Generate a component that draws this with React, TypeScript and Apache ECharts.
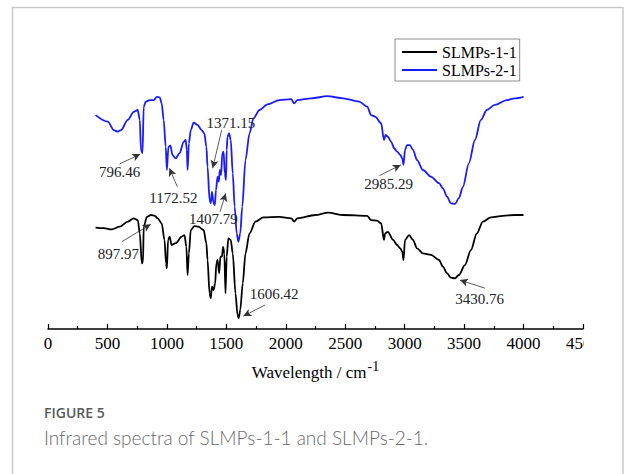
import React, { useEffect, useRef } from "react";
import * as echarts from "echarts";

// ---- Data (wavenumber in cm-1, transmittance in arbitrary units) ----
const series1Name = "SLMPs-1-1";
const series2Name = "SLMPs-2-1";

const wn1 = [400, 470, 537, 604, 671, 721, 755, 772, 789, 799, 805, 832, 866, 899, 923, 956, 980, 993, 1000, 1010, 1023, 1040, 1074, 1124, 1148, 1164, 1174, 1185, 1201, 1232, 1265, 1309, 1332, 1342, 1359, 1369, 1379, 1393, 1406, 1416, 1426, 1440, 1450, 1463, 1473, 1483, 1493, 1503, 1517, 1537, 1554, 1577, 1594, 1604, 1617, 1638, 1661, 1695, 1745, 1812, 1946, 2047, 2070, 2097, 2248, 2356, 2483, 2685, 2718, 2768, 2802, 2826, 2836, 2859, 2903, 2936, 2963, 2980, 2990, 3003, 3037, 3070, 3104, 3154, 3221, 3289, 3322, 3356, 3389, 3423, 3456, 3507, 3557, 3607, 3658, 3725, 3826, 3926, 4000];
const t1 = [33.8, 33.6, 33.2, 34.1, 35.8, 36.9, 36.3, 31.9, 21.9, 22.4, 34.1, 37.4, 38.0, 37.7, 36.9, 35.2, 29.7, 21.9, 20.2, 29.7, 30.8, 28.0, 28.6, 30.8, 31.3, 27.4, 18.0, 25.2, 33.0, 34.3, 34.1, 33.0, 28.6, 23.0, 11.9, 10.2, 14.1, 13.0, 15.2, 21.9, 23.0, 18.6, 24.1, 24.1, 27.4, 25.2, 11.9, 24.1, 30.2, 29.7, 25.2, 11.9, 4.7, 3.6, 6.3, 15.2, 25.2, 31.9, 35.8, 37.2, 37.4, 36.9, 35.8, 36.9, 38.0, 38.8, 38.0, 37.7, 36.3, 36.1, 35.2, 29.7, 31.9, 32.4, 29.7, 28.0, 26.9, 25.8, 23.0, 29.7, 31.3, 29.7, 26.9, 25.2, 24.7, 23.0, 20.8, 18.6, 17.1, 16.9, 18.0, 21.3, 26.3, 31.9, 35.8, 37.2, 37.7, 38.0, 38.0];

const wn2 = [400, 503, 554, 587, 614, 671, 721, 755, 772, 782, 795, 805, 822, 856, 889, 916, 940, 956, 973, 990, 1000, 1013, 1030, 1047, 1074, 1107, 1141, 1158, 1168, 1174, 1185, 1201, 1225, 1258, 1292, 1315, 1332, 1342, 1359, 1369, 1379, 1393, 1403, 1413, 1426, 1436, 1446, 1456, 1466, 1477, 1487, 1497, 1503, 1510, 1523, 1537, 1554, 1570, 1587, 1601, 1617, 1634, 1661, 1695, 1728, 1779, 1846, 1946, 2047, 2070, 2097, 2215, 2349, 2483, 2617, 2685, 2718, 2752, 2802, 2826, 2839, 2859, 2886, 2913, 2936, 2963, 2980, 2990, 3003, 3020, 3044, 3070, 3104, 3154, 3221, 3289, 3322, 3356, 3389, 3423, 3456, 3490, 3540, 3591, 3641, 3691, 3758, 3859, 3926, 4000];
const t2 = [71.3, 69.1, 66.3, 65.8, 66.3, 69.7, 72.4, 73.0, 69.7, 59.7, 58.6, 74.1, 75.8, 76.3, 76.3, 77.4, 77.2, 75.2, 69.7, 60.8, 53.0, 60.8, 61.1, 58.0, 56.9, 58.6, 62.4, 63.0, 59.7, 53.0, 61.9, 66.3, 68.8, 68.0, 66.3, 65.2, 60.8, 54.1, 43.0, 41.9, 45.8, 41.9, 41.3, 46.3, 50.8, 49.1, 53.0, 51.3, 58.6, 59.1, 51.9, 49.7, 59.7, 64.1, 65.2, 63.0, 51.9, 40.8, 31.9, 29.1, 31.9, 40.8, 56.3, 65.2, 70.2, 73.0, 74.9, 76.3, 76.6, 75.2, 76.3, 76.9, 77.6, 76.9, 75.8, 74.1, 71.3, 70.8, 68.6, 63.0, 64.7, 64.1, 62.4, 60.2, 59.1, 58.0, 56.9, 54.7, 59.7, 61.3, 61.3, 59.7, 56.3, 53.0, 50.8, 48.6, 46.9, 44.1, 41.9, 41.7, 43.6, 47.4, 55.2, 63.0, 69.7, 73.0, 74.7, 76.3, 76.9, 77.4];

const xTicks = [0, 500, 1000, 1500, 2000, 2500, 3000, 3500, 4000, 4500];

const peakLabels = ["796.46", "1172.52", "1371.15", "1407.79", "897.97", "1606.42", "2985.29", "3430.76"];
const peakLabelPos = [[602, 52.4], [1055, 43.6], [1539, 68.8], [1390, 36.7], [592, 25.0], [1903, 11.7], [2865, 48.3], [3630, 10.0]];
const arrowFrom = [[602, 55.0], [1088, 47.4], [1461, 66.3], [1447, 39.1], [620, 29.1], [1825, 8.0], [2787, 51.1], [3675, 13.6]];
const arrowTo = [[776, 58.3], [1021, 53.6], [1385, 53.6], [1495, 45.2], [864, 34.9], [1643, 4.3], [2967, 54.7], [3465, 16.3]];

const figureLabel = "FIGURE 5";
const caption = "Infrared spectra of SLMPs-1-1 and SLMPs-2-1.";

const SERIF = "'Liberation Serif', 'Times New Roman', serif";

export default function App() {
  const ref = useRef<HTMLDivElement>(null);

  useEffect(() => {
    document.body.style.margin = "0";
    if (!ref.current) return;
    const chart = echarts.init(ref.current, null, { renderer: "svg" });

    const zip = (a: number[], b: number[]) => a.map((x, i) => [x, b[i]]);

    const option: any = {
      animation: false,
      backgroundColor: "#fff",
      grid: { left: 48, right: 42, top: 29, bottom: 145, containLabel: false },
      xAxis: {
        type: "value",
        min: xTicks[0],
        max: xTicks[xTicks.length - 1],
        interval: xTicks[1] - xTicks[0],
        axisLine: { show: true, lineStyle: { color: "#000", width: 1.5 } },
        axisTick: { show: true, inside: true, length: 5, lineStyle: { color: "#000", width: 1.2 } },
        minorTick: { show: true, splitNumber: 2, length: 3, lineStyle: { color: "#000", width: 1.2 } },
        splitLine: { show: false },
        axisLabel: {
          fontSize: 17,
          fontFamily: SERIF,
          color: "#000",
          margin: 6,
          formatter: (v: number) => String(v),
        },
        name: "{a|Wavelength / cm}{b|-1}",
        nameLocation: "middle",
        nameGap: 30,
        nameTextStyle: {
          rich: {
            a: { fontSize: 17, fontFamily: SERIF, color: "#000", lineHeight: 22, verticalAlign: "bottom" },
            b: { fontSize: 14, fontFamily: SERIF, color: "#000", lineHeight: 22, verticalAlign: "top", padding: [0, 0, 0, 1] },
          },
        },
      },
      yAxis: { type: "value", min: 0, max: 100, show: false },
      legend: {
        orient: "vertical",
        left: 395,
        top: 39,
        padding: [5, 3, 3, 7],
        itemGap: 2,
        itemWidth: 35,
        itemHeight: 2,
        borderColor: "#8c8c8c",
        borderWidth: 1,
        textStyle: { fontSize: 16, fontFamily: SERIF, color: "#000", lineHeight: 16 },
        data: [
          { name: series1Name, icon: "rect" },
          { name: series2Name, icon: "rect" },
        ],
      },
      series: [
        {
          name: series1Name,
          type: "line",
          data: zip(wn1, t1),
          showSymbol: false,
          smooth: 0.3,
          smoothMonotone: "x",
          lineStyle: { color: "#000", width: 1.8 },
          itemStyle: { color: "#000" },
          z: 3,
          markPoint: {
            silent: true,
            symbol: "circle",
            symbolSize: 0,
            label: {
              show: true,
              position: "inside",
              formatter: (p: any) => p.name,
              fontSize: 15,
              fontFamily: SERIF,
              color: "#222",
            },
            data: peakLabels.map((t, i) => ({ name: t, coord: peakLabelPos[i] })),
          },
          markLine: {
            silent: true,
            symbol: ["none", "arrow"],
            symbolSize: [6, 8],
            label: { show: false },
            lineStyle: { color: "#333", width: 0.8, type: "solid" },
            emphasis: { disabled: true },
            data: arrowFrom.map((f, i) => [{ coord: f }, { coord: arrowTo[i] }]),
          },
        },
        {
          name: series2Name,
          type: "line",
          data: zip(wn2, t2),
          showSymbol: false,
          smooth: 0.3,
          smoothMonotone: "x",
          lineStyle: { color: "#1a1aff", width: 1.8 },
          itemStyle: { color: "#1a1aff" },
          z: 2,
        },
      ],
      graphic: [
        {
          type: "rect",
          z: 100,
          shape: { x: 584, y: 333, width: 36, height: 22 },
          style: { fill: "#fff" },
          silent: true,
        },
        {
          type: "rect",
          z: 101,
          shape: { x: 12.5, y: 7.5, width: 610.5, height: 480 },
          style: { fill: "none", stroke: "#c9c9c9", lineWidth: 1.5 },
          silent: true,
        },
        {
          type: "text",
          z: 101,
          left: 44,
          top: 405,
          style: { text: figureLabel, fontSize: 14, fontWeight: 600, fontFamily: "'Open Sans', 'Noto Sans', sans-serif", fill: "#5a5a5a" },
        },
        {
          type: "text",
          z: 101,
          left: 44,
          top: 428,
          style: { text: caption, fontSize: 19, fontWeight: 300, fontFamily: "Lato, 'Open Sans', sans-serif", fill: "#6a6a6a" },
        },
      ],
    };

    chart.setOption(option);
    return () => chart.dispose();
  }, []);

  return <div ref={ref} style={{ width: 625, height: 474 }} />;
}
